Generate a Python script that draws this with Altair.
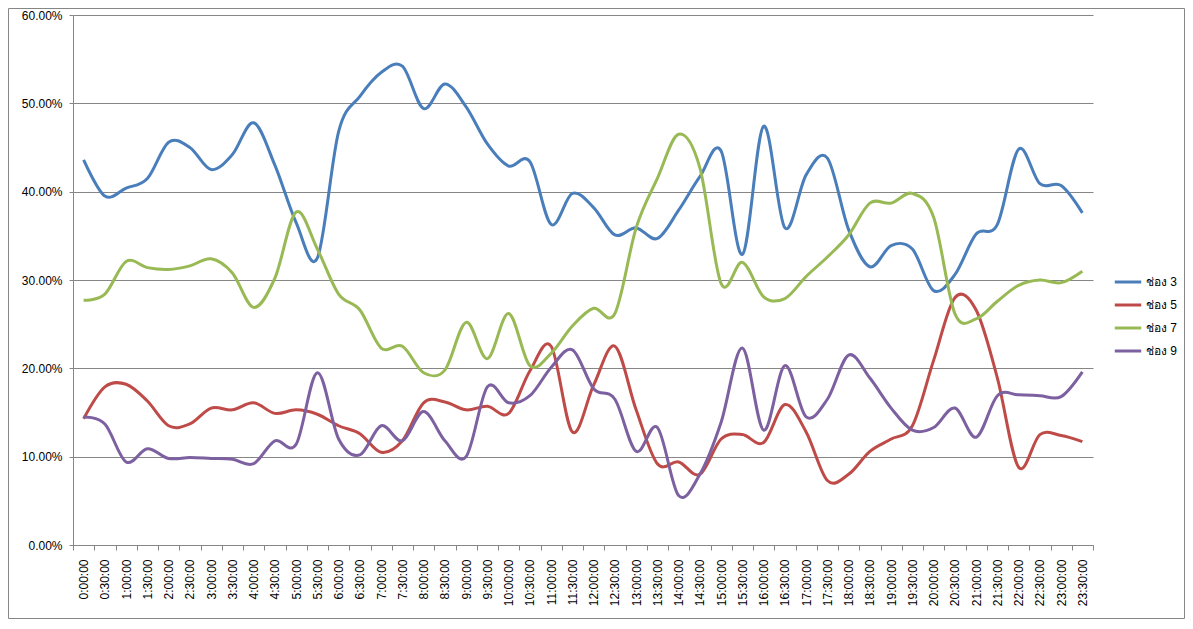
import altair as alt
import pandas as pd

times = [
    "0:00:00", "0:30:00", "1:00:00", "1:30:00", "2:00:00", "2:30:00",
    "3:00:00", "3:30:00", "4:00:00", "4:30:00", "5:00:00", "5:30:00",
    "6:00:00", "6:30:00", "7:00:00", "7:30:00", "8:00:00", "8:30:00",
    "9:00:00", "9:30:00", "10:00:00", "10:30:00", "11:00:00", "11:30:00",
    "12:00:00", "12:30:00", "13:00:00", "13:30:00", "14:00:00", "14:30:00",
    "15:00:00", "15:30:00", "16:00:00", "16:30:00", "17:00:00", "17:30:00",
    "18:00:00", "18:30:00", "19:00:00", "19:30:00", "20:00:00", "20:30:00",
    "21:00:00", "21:30:00", "22:00:00", "22:30:00", "23:00:00", "23:30:00",
]

ch3 = [43.6, 39.5, 40.4, 41.5, 45.6, 45.0, 42.5, 44.2, 47.8, 43.0, 36.5, 32.5,
       46.8, 50.8, 53.5, 54.2, 49.4, 52.2, 49.6, 45.4, 42.9, 43.4, 36.3, 39.8,
       38.2, 35.1, 35.9, 34.7, 37.9, 41.7, 44.6, 32.9, 47.4, 35.9, 41.9, 43.8,
       35.7, 31.5, 33.9, 33.5, 28.8, 30.6, 35.2, 36.3, 44.8, 40.9, 40.7, 37.6]

ch5 = [14.3, 17.9, 18.2, 16.3, 13.5, 13.7, 15.5, 15.3, 16.1, 14.9, 15.3, 14.8,
       13.5, 12.6, 10.5, 11.8, 16.1, 16.2, 15.3, 15.7, 14.9, 19.7, 22.5, 12.8,
       18.1, 22.5, 15.3, 9.2, 9.4, 8.0, 12.0, 12.5, 11.6, 15.9, 12.8, 7.3,
       8.0, 10.6, 12.0, 13.5, 20.9, 28.0, 26.6, 18.9, 8.8, 12.5, 12.4, 11.7]

ch7 = [27.7, 28.4, 32.1, 31.4, 31.2, 31.6, 32.4, 30.8, 26.9, 30.2, 37.7, 33.5,
       28.4, 26.6, 22.3, 22.5, 19.5, 19.8, 25.2, 21.1, 26.2, 20.3, 21.7, 24.8,
       26.8, 26.2, 35.9, 41.5, 46.5, 42.7, 29.6, 32.0, 28.1, 27.9, 30.4, 32.6,
       35.1, 38.7, 38.7, 39.8, 37.1, 26.2, 25.6, 27.6, 29.4, 30.0, 29.7, 31.0]

ch9 = [14.5, 13.7, 9.4, 10.9, 9.8, 9.9, 9.8, 9.7, 9.2, 11.8, 11.4, 19.5,
       12.0, 10.2, 13.5, 11.8, 15.1, 11.8, 10.0, 17.9, 16.1, 16.9, 20.1, 22.1,
       17.7, 16.5, 10.6, 13.3, 5.6, 8.0, 13.9, 22.3, 13.0, 20.3, 14.5, 16.5,
       21.5, 18.9, 15.5, 13.0, 13.3, 15.5, 12.2, 16.9, 17.0, 16.9, 16.8, 19.6]

series_names = ["ช่อง 3", "ช่อง 5", "ช่อง 7", "ช่อง 9"]
series_colors = ["#4A7EBB", "#BE4B48", "#98B954", "#7D60A0"]
y_ticks = [0.0, 0.1, 0.2, 0.3, 0.4, 0.5, 0.6]

rows = []
for name, vals in zip(series_names, [ch3, ch5, ch7, ch9]):
    for t, v in zip(times, vals):
        rows.append({"time": t, "series": name, "value": v / 100.0})
df = pd.DataFrame(rows)

FONT = "Liberation Sans"
GRID = "#868686"

lines = alt.Chart(df).mark_line(interpolate="cardinal", strokeWidth=3).encode(
    x=alt.X(
        "time:O",
        sort=times,
        bandPosition=0.5,
        scale=alt.Scale(type="band", paddingInner=0, paddingOuter=0),
        axis=alt.Axis(
            title=None, labelAngle=270, tickBand="extent", grid=False,
            domainColor=GRID, tickColor=GRID, tickSize=5, labelPadding=9,
            labelFont=FONT, labelFontSize=12, labelColor="#000000",
            labelOverlap=False,
        ),
    ),
    y=alt.Y(
        "value:Q",
        scale=alt.Scale(domain=[0, 0.6], nice=False),
        axis=alt.Axis(
            title=None, format=".2%", values=y_ticks, grid=True,
            gridColor=GRID, gridWidth=1, domainColor=GRID, tickColor=GRID,
            tickSize=4, labelPadding=7, labelFont=FONT, labelFontSize=12,
            labelColor="#000000",
        ),
    ),
    color=alt.Color(
        "series:N",
        scale=alt.Scale(domain=series_names, range=series_colors),
        legend=alt.Legend(
            title=None, orient="none", legendX=1040, legendY=252,
            symbolType="stroke", symbolSize=700, symbolStrokeWidth=3,
            labelFont=FONT, labelFontSize=12, labelColor="#000000",
            rowPadding=2, labelOffset=3,
        ),
    ),
)

frame = alt.Chart(pd.DataFrame({"k": [0]})).mark_rect(
    fill=None, stroke=GRID, strokeWidth=1, clip=False
).encode(
    x=alt.value(-64.5), x2=alt.value(1111.5),
    y=alt.value(-6.5), y2=alt.value(603.5),
)

chart = alt.layer(frame, lines).properties(
    width=1020, height=530,
    autosize=alt.AutoSizeParams(type="none"),
    padding={"left": 65, "top": 7, "right": 92, "bottom": 76},
).configure_view(stroke=None)

chart.save("out.html", embed_options={"renderer": "svg", "actions": False})
